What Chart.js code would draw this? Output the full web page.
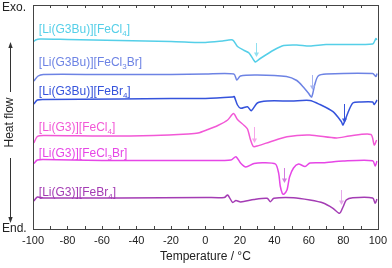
<!DOCTYPE html>
<html lang="en">
<head>
<meta charset="UTF-8">
<title>DSC curves</title>
<script src="https://cdn.jsdelivr.net/npm/chart.js"></script>
<style>
  html, body { margin: 0; padding: 0; background: #fff; }
</style>
</head>
<body>
<canvas id="dsc" width="392" height="268"></canvas>
<script>
// DSC traces, [temperature °C, heat flow a.u.]
const g3buFeCl4 = [[-99.5,187.5],[-98.5,189],[-96,190],[-80,189.5],[-50,188.5],[-20,187.5],[-5,186.5],[0,186.5],[10,188],[15.8,189],[18.6,182.5],[22.5,178.5],[25.3,176],[28.2,168.5],[29,167],[31.8,170.5],[39.7,179],[45.4,183.5],[53,184],[60.5,183],[70,184.5],[97,185],[98.9,190.5],[99.4,189]];
const g3buFeCl3Br = [[-99.5,148],[-97,153],[-94,154.5],[-60,154.5],[-20,154.5],[0,155],[16.5,155],[18.2,149],[20.3,153],[30,154],[47,152.5],[53,148.5],[56.8,142],[59.7,136],[61.6,132],[63.5,145],[65.4,153],[70,155],[97,155.5],[98.9,152.5],[99.6,155.5]];
const g3buFeBr4 = [[-99.5,125],[-97.5,129],[-94,129.5],[-50,130],[-20,130.5],[0,130.5],[15.8,132],[16.7,132.5],[18.6,124],[20.5,120.7],[24.4,122.3],[26.6,118.3],[30.1,126],[35.8,128],[50,128],[60.5,128.5],[66.4,124.5],[74,117.3],[78.8,107.5],[79.8,104],[82.6,116],[85.5,126],[90,127],[97,127],[97.9,124.5],[99.6,129]];
const g3FeCl4 = [[-99.5,86],[-97.5,92.5],[-94,93.5],[-60,93],[-30,93.5],[-10,95],[-4.3,96],[1.4,99.5],[7.2,103.5],[12.9,109],[16.3,115.5],[18.6,109.5],[22.5,103.5],[24.4,100],[26.2,89],[27.8,82.5],[30.1,83],[37.7,87.3],[47.3,92.3],[60.5,94],[76,91],[83.4,93],[96,94.5],[97.9,84],[99.3,89]];
const g3FeCl3Br = [[-99.5,65.5],[-97.5,69],[-94,69.5],[-60,68.5],[-20,68.5],[0,68.5],[14.8,69],[17.7,72.3],[20.5,65.7],[23.4,62],[28.2,65.5],[33.9,66.3],[40.6,65],[42.5,55.7],[43.4,43],[44.6,35.5],[45.4,34.7],[47.3,39],[48.8,52],[51.1,61],[54,65],[57.8,62.5],[60.6,66],[68.3,66.3],[79.8,68],[97,68.3],[98.5,63],[99.5,68]];
const g3FeBr4 = [[-99.5,28],[-97.5,32],[-94,31],[-50,31],[0,31.5],[11,31.5],[12.9,34],[15.8,26.5],[17.7,28.5],[20.5,27],[28.2,29.5],[35.8,30.7],[37.7,27.3],[39.7,30.7],[51.1,31.3],[60.6,29],[68.3,26],[74,20.7],[77.8,15.7],[79.8,22],[81.7,29],[85.5,31.2],[97,31],[98.5,25.7],[99.5,30]];

// curve labels: [text, subscript, tail]
const seriesNames = [
  ['[Li(G3Bu)][FeCl', '4', ']'],
  ['[Li(G3Bu)][FeCl', '3', 'Br]'],
  ['[Li(G3Bu)][FeBr', '4', ']'],
  ['[Li(G3)][FeCl', '4', ']'],
  ['[Li(G3)][FeCl', '3', 'Br]'],
  ['[Li(G3)][FeBr', '4', ']']
];
// peak marker arrows: temperature, from, to (a.u.)
const arrowT = [29.3, 61.6, 80.1, 28.2, 45.4, 78.4];
const arrowFrom = [186, 154, 125, 102, 61, 39];
const arrowTo = [172, 139, 106, 86, 46, 24];
const xTicks = [-100, -80, -60, -40, -20, 0, 20, 40, 60, 80, 100];

const series = [g3buFeCl4, g3buFeCl3Br, g3buFeBr4, g3FeCl4, g3FeCl3Br, g3FeBr4];
const colors = ['#55cfe8', '#6d83e4', '#3553dc', '#f258d6', '#e646e6', '#a43cb4'];
const arrowColors = ['#8fe0f0', '#a6b4f0', '#3553dc', '#f7a6ea', '#d47ce0', '#e6aaea'];
const labelX = -96.6;
const labelY = [196, 163, 134, 98, 72, 33];
const FONT = 'Arial, "Liberation Sans", sans-serif';

const decor = {
  id: 'decor',
  afterDatasetsDraw(chart) {
    const {ctx, scales: {x, y}} = chart;
    ctx.save();
    // peak arrows
    arrowT.forEach((t, i) => {
      const px = Math.round(x.getPixelForValue(t)) + 0.5;
      const y0 = y.getPixelForValue(arrowFrom[i]);
      const y1 = y.getPixelForValue(arrowTo[i]);
      ctx.strokeStyle = arrowColors[i];
      ctx.fillStyle = arrowColors[i];
      ctx.lineWidth = 1;
      ctx.beginPath(); ctx.moveTo(px, y0); ctx.lineTo(px, y1 - 3); ctx.stroke();
      ctx.beginPath(); ctx.moveTo(px - 2.5, y1 - 4.5); ctx.lineTo(px + 2.5, y1 - 4.5); ctx.lineTo(px, y1); ctx.closePath(); ctx.fill();
    });
    // curve labels
    ctx.textBaseline = 'alphabetic';
    ctx.textAlign = 'left';
    seriesNames.forEach((parts, i) => {
      let px = x.getPixelForValue(labelX);
      const py = y.getPixelForValue(labelY[i]);
      ctx.fillStyle = colors[i];
      ctx.font = '12px ' + FONT;
      ctx.fillText(parts[0], px, py);
      px += ctx.measureText(parts[0]).width;
      ctx.font = '8px ' + FONT;
      ctx.fillText(parts[1], px, py + 3);
      px += ctx.measureText(parts[1]).width;
      ctx.font = '12px ' + FONT;
      ctx.fillText(parts[2], px, py);
    });
    ctx.restore();
  },
  afterDraw(chart) {
    const {ctx, chartArea: a, scales: {x}} = chart;
    ctx.save();
    // frame
    ctx.strokeStyle = '#444';
    ctx.lineWidth = 1;
    ctx.strokeRect(Math.round(a.left) + 0.5, Math.round(a.top) + 0.5, Math.round(a.right - a.left), Math.round(a.bottom - a.top));
    // inward ticks every 10 °C, top and bottom
    ctx.beginPath();
    for (let t = -90; t <= 90; t += 10) {
      const px = Math.round(x.getPixelForValue(t)) + 0.5;
      ctx.moveTo(px, a.bottom); ctx.lineTo(px, a.bottom - 3);
      ctx.moveTo(px, a.top); ctx.lineTo(px, a.top + 3);
    }
    ctx.stroke();
    // y axis annotation
    ctx.fillStyle = '#222';
    ctx.strokeStyle = '#333';
    ctx.font = '12px ' + FONT;
    ctx.textAlign = 'left';
    ctx.textBaseline = 'middle';
    ctx.fillText('Exo.', 2, 8);
    ctx.fillText('End.', 2, a.bottom);
    ctx.save();
    ctx.translate(10, 122.5);
    ctx.rotate(-Math.PI / 2);
    ctx.textAlign = 'center';
    ctx.fillText('Heat flow', 0, 0);
    ctx.restore();
    const ax = 10.5;
    ctx.beginPath();
    ctx.moveTo(ax, 92); ctx.lineTo(ax, 46);
    ctx.moveTo(ax, 158); ctx.lineTo(ax, 219);
    ctx.stroke();
    ctx.fillStyle = '#333';
    ctx.beginPath(); ctx.moveTo(ax - 2.2, 48); ctx.lineTo(ax + 2.2, 48); ctx.lineTo(ax, 42); ctx.closePath(); ctx.fill();
    ctx.beginPath(); ctx.moveTo(ax - 2.2, 217); ctx.lineTo(ax + 2.2, 217); ctx.lineTo(ax, 223); ctx.closePath(); ctx.fill();
    ctx.restore();
  }
};

const ctx = document.getElementById('dsc').getContext('2d');
const chart = new Chart(ctx, {
  type: 'line',
  data: {
    datasets: series.map((s, i) => ({
      label: seriesNames[i].join(''),
      data: s.map(p => ({x: p[0], y: p[1]})),
      borderColor: colors[i],
      borderWidth: 1.5,
      pointRadius: 0,
      tension: 0.25,
      fill: false
    }))
  },
  options: {
    responsive: false,
    animation: false,
    devicePixelRatio: 1,
    layout: { padding: { left: 33, right: 10, top: 5, bottom: 0 } },
    plugins: { legend: { display: false }, tooltip: { enabled: false } },
    scales: {
      x: {
        type: 'linear',
        min: -100,
        max: 100,
        afterBuildTicks: s => { s.ticks = xTicks.map(v => ({value: v})); },
        afterFit: s => { s.height = 39; },
        grid: { display: false, drawTicks: false },
        border: { display: false },
        ticks: { color: '#222', padding: 5, maxRotation: 0, font: { family: FONT, size: 11 } },
        title: { display: true, text: 'Temperature / °C', color: '#222', padding: { top: 0, bottom: 4 }, font: { family: FONT, size: 12 } }
      },
      y: {
        display: false,
        min: 0,
        max: 224
      }
    }
  },
  plugins: [decor]
});
</script>
</body>
</html>
